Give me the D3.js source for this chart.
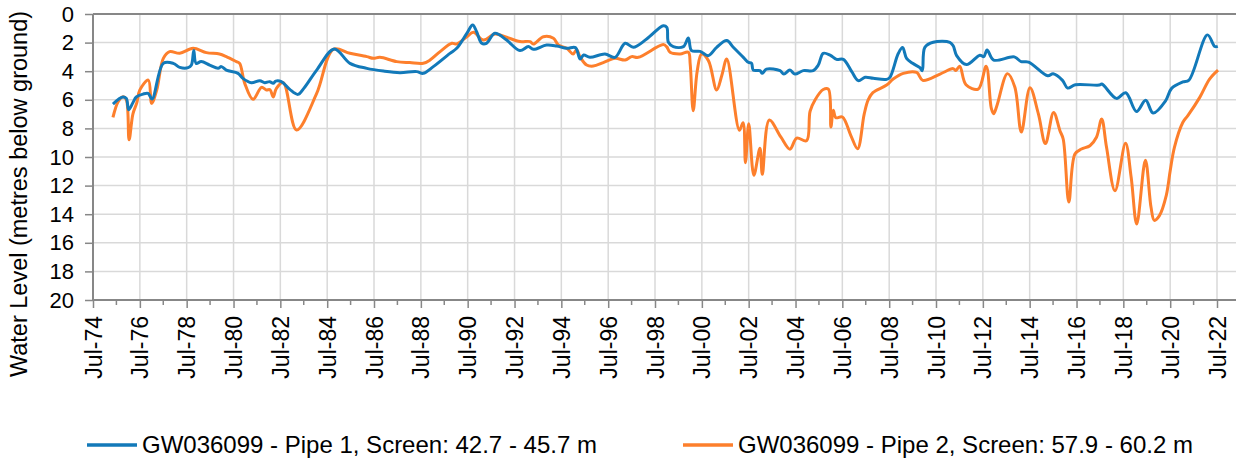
<!DOCTYPE html>
<html>
<head>
<meta charset="utf-8">
<script src="https://cdn.jsdelivr.net/npm/d3@7"></script>
<style>
  body { margin: 0; background: #fff; }
  text { font-family: "Liberation Sans", Arial, sans-serif; fill: #000; }
</style>
</head>
<body>
<script>
// readings taken off the hydrograph (decimal year, metres below ground)
var pipe1Year = [1975.35, 1975.6, 1975.78, 1975.92, 1976.02, 1976.2, 1976.35, 1976.63, 1976.85, 1977.02, 1977.5,
  1977.92, 1978.2, 1978.56, 1978.7, 1978.8, 1978.9, 1979.12, 1979.48, 1979.84, 1979.98, 1980.19, 1980.69, 1980.9,
  1981.26, 1981.62, 1981.83, 1982.04, 1982.19, 1982.3, 1982.54, 1982.9, 1983.25, 1983.5, 1984.05, 1984.8, 1985.47,
  1986.19, 1986.9, 1987.6, 1988.32, 1988.6, 1989.03, 1989.74, 1990.03, 1990.46, 1990.71, 1990.88, 1991.1, 1991.3,
  1991.66, 1992.16, 1992.73, 1993.09, 1993.3, 1993.87, 1994.3, 1994.73, 1995.1, 1995.3, 1995.45, 1995.72, 1996.36,
  1996.79, 1997.22, 1997.57, 1998.14, 1998.85, 1999.0, 1999.07, 1999.28, 1999.71, 1999.92, 2000.06, 2000.42, 2000.78,
  2001.13, 2001.56, 2001.84, 2002.27, 2002.48, 2002.62, 2002.69, 2002.98, 2003.08, 2003.26, 2003.84, 2004.0, 2004.26,
  2004.47, 2004.83, 2005.25, 2005.47, 2005.68, 2005.97, 2006.25, 2006.54, 2006.9, 2007.18, 2007.47, 2007.82, 2008.39,
  2008.53, 2008.89, 2009.07, 2009.24, 2009.5, 2009.81, 2009.91, 2010.02, 2010.38, 2011.09, 2011.23, 2011.38, 2011.8,
  2012.37, 2012.54, 2012.68, 2012.96, 2013.84, 2014.13, 2014.45, 2015.27, 2015.5, 2015.9, 2016.12, 2016.45, 2017.47,
  2017.58, 2018.2, 2018.6, 2019.06, 2019.45, 2019.77, 2020.3, 2020.56, 2021.04, 2021.3, 2022.09, 2022.4, 2022.53];
var pipe1Level = [6.3, 5.95, 5.8, 5.9, 6.7, 6.2, 5.8, 5.6, 5.55, 5.95, 3.45,
  3.45, 3.73, 3.75, 3.57, 2.55, 3.45, 3.33, 3.57, 3.8, 3.68, 3.92, 4.15, 4.5,
  4.8, 4.66, 4.8, 4.73, 4.85, 4.69, 4.73, 5.27, 5.62, 5.2, 3.92, 2.45, 3.45,
  3.8, 3.99, 4.1, 4.03, 4.15, 3.68, 2.75, 2.4, 1.35, 0.77, 1.24, 2.05, 2.05,
  1.35, 1.82, 2.56, 2.28, 2.47, 2.17, 2.24, 2.4, 2.35, 3.15, 2.87, 3.03, 2.8,
  3.03, 2.05, 2.33, 1.75, 0.82, 0.93, 1.98, 2.28, 2.28, 1.68, 2.56, 2.61, 2.91,
  2.33, 1.86, 2.33, 3.03, 3.38, 3.45, 3.92, 3.96, 4.15, 3.85, 3.96, 4.2, 3.92,
  4.2, 3.96, 3.96, 3.57, 2.75, 2.87, 3.17, 3.17, 4.03, 4.66, 4.43, 4.5, 4.57,
  4.43, 2.75, 2.35, 3.1, 3.45, 3.75, 3.96, 2.33, 1.98, 1.98, 2.22, 2.91, 3.54,
  2.88, 2.98, 2.52, 3.22, 3.0, 3.33, 3.36, 4.32, 4.18, 4.64, 5.18, 4.95, 4.97,
  4.9, 5.9, 5.51, 6.82, 6.03, 6.93, 6.08, 5.2, 4.75, 4.62, 1.46, 2.27, 2.26];

var pipe2Year = [1975.35, 1975.57, 1975.78, 1975.92, 1976.04, 1976.2, 1976.37, 1976.5, 1976.86, 1977.0, 1977.22,
  1977.5, 1977.77, 1978.2, 1978.77, 1979.34, 1979.9, 1980.19, 1980.62, 1980.76, 1980.98, 1981.33, 1981.69, 1981.9,
  1982.06, 1982.19, 1982.33, 1982.62, 1983.19, 1984.05, 1984.76, 1985.47, 1986.19, 1986.47, 1986.75, 1987.47,
  1988.03, 1988.6, 1988.89, 1989.32, 1989.82, 1990.03, 1990.46, 1990.74, 1991.17, 1991.66, 1992.16, 1992.73,
  1993.16, 1993.3, 1993.73, 1994.16, 1994.37, 1994.73, 1995.0, 1995.15, 1995.3, 1995.58, 1995.86, 1996.29, 1996.79,
  1997.22, 1997.5, 1997.78, 1998.85, 1999.0, 1999.14, 1999.57, 1999.92, 2000.0, 2000.13, 2000.3, 2000.49, 2000.78,
  2001.13, 2001.35, 2001.56, 2002.1, 2002.26, 2002.36, 2002.5, 2002.72, 2002.98, 2003.08, 2003.38, 2003.87, 2004.26,
  2004.55, 2004.97, 2005.12, 2005.33, 2005.68, 2005.9, 2006.01, 2006.11, 2006.22, 2006.5, 2006.86, 2007.15, 2007.43,
  2007.6, 2007.8, 2008.39, 2008.67, 2009.1, 2009.67, 2009.93, 2010.67, 2011.23, 2011.35, 2011.51, 2011.78, 2012.3,
  2012.64, 2012.86, 2012.96, 2013.1, 2013.55, 2013.86, 2014.14, 2014.51, 2014.87, 2015.17, 2015.52, 2015.79,
  2015.93, 2016.17, 2016.43, 2016.71, 2017.07, 2017.35, 2017.57, 2017.78, 2018.14, 2018.59, 2018.83, 2019.07,
  2019.44, 2019.68, 2019.82, 2020.04, 2020.33, 2020.5, 2020.68, 2021.04, 2021.25, 2021.76, 2022.18, 2022.54];
var pipe2Level = [7.23, 6.13, 5.78, 6.0, 8.8, 7.0, 6.2, 5.31, 4.62, 6.25, 5.31,
  3.1, 2.63, 2.75, 2.4, 2.7, 2.8, 2.98, 3.33, 3.45, 4.85, 5.97, 5.13, 5.31,
  5.3, 5.8, 5.2, 4.8, 8.11, 5.55, 2.47, 2.75, 2.98, 3.1, 3.03, 3.33,
  3.4, 3.45, 3.22, 2.63, 2.05, 2.1, 1.59, 1.28, 1.82, 1.4, 1.63, 1.93,
  1.93, 2.1, 1.59, 1.7, 2.17, 2.4, 2.8, 2.5, 3.0, 3.57, 3.64, 3.4, 3.1,
  3.22, 2.98, 3.03, 2.14, 2.3, 2.68, 2.8, 2.68, 3.5, 6.76, 4.0, 2.8, 3.26,
  5.31, 4.3, 3.15, 8.13, 7.6, 10.4, 7.68, 11.28, 9.39, 11.21, 7.41, 8.6, 9.45,
  8.68, 8.86, 6.8, 6.01, 5.28, 5.26, 7.9, 6.73, 7.25, 7.2, 8.5, 9.42, 7.0,
  6.01, 5.5, 4.97, 4.55, 4.15, 4.09, 4.64, 4.2, 3.82, 3.95, 3.65, 4.95, 5.25,
  3.65, 6.6, 6.97, 6.4, 4.17, 5.1, 8.25, 5.16, 6.99, 9.06, 6.88, 8.16,
  8.74, 13.15, 9.79, 9.44, 9.21, 8.62, 7.34, 9.32, 12.36, 9.04, 11.42, 14.69,
  10.23, 13.52, 14.43, 14.1, 12.7, 10.96, 9.32, 7.57, 7.11, 5.83, 4.55, 3.92];

var seriesNames = ["GW036099 - Pipe 1, Screen: 42.7 - 45.7 m", "GW036099 - Pipe 2, Screen: 57.9 - 60.2 m"];
var seriesColors = ["#1279b9", "#fd7f2c"];
var yTicks = [0, 2, 4, 6, 8, 10, 12, 14, 16, 18, 20];

var width = 1236, height = 466;
var plotLeft = 93, plotRight = 1236, plotTop = 14, plotBottom = 300;

function toDate(yv) {
    var yr = Math.floor(yv);
    return new Date(yr, 0, 1 + (yv - yr) * 365.25);
}

var svg = d3.select("body").append("svg")
    .attr("width", width)
    .attr("height", height);

var x = d3.scaleTime()
    .domain([new Date(1974, 6, 1), new Date(2022, 6, 1)])
    .range([plotLeft, 1217]);
var y = d3.scaleLinear().domain([0, 20]).range([plotTop, plotBottom]);

var majorDates = d3.range(1974, 2023, 2).map(function (yr) { return new Date(yr, 6, 1); });
var minorDates = d3.range(1975, 2022, 2).map(function (yr) { return new Date(yr, 6, 1); });

// gridlines
svg.append("g").selectAll("line")
    .data(yTicks.slice(1, -1))
    .enter().append("line")
    .attr("x1", plotLeft).attr("x2", plotRight)
    .attr("y1", function (d) { return y(d); })
    .attr("y2", function (d) { return y(d); })
    .attr("stroke", "#d9d9d9").attr("stroke-width", 1.5);

svg.append("g").selectAll("line")
    .data(majorDates.slice(1))
    .enter().append("line")
    .attr("x1", function (d) { return x(d); })
    .attr("x2", function (d) { return x(d); })
    .attr("y1", plotTop).attr("y2", plotBottom)
    .attr("stroke", "#d9d9d9").attr("stroke-width", 1.5);

// series
var line = d3.line()
    .x(function (d) { return x(toDate(d[0])); })
    .y(function (d) { return y(d[1]); })
    .curve(d3.curveCatmullRom.alpha(0.5));

var series = [d3.zip(pipe1Year, pipe1Level), d3.zip(pipe2Year, pipe2Level)];

// orange drawn under blue like the original
svg.append("g").selectAll("path")
    .data([1, 0])
    .enter().append("path")
    .attr("d", function (i) { return line(series[i]); })
    .attr("fill", "none")
    .attr("stroke", function (i) { return seriesColors[i]; })
    .attr("stroke-width", 3)
    .attr("stroke-linejoin", "round");

// frame lines
var axisColor = "#878787";
svg.append("line").attr("x1", plotLeft).attr("x2", plotRight).attr("y1", plotTop).attr("y2", plotTop)
    .attr("stroke", axisColor).attr("stroke-width", 2);
svg.append("line").attr("x1", plotLeft).attr("x2", plotRight).attr("y1", plotBottom).attr("y2", plotBottom)
    .attr("stroke", axisColor).attr("stroke-width", 2);
svg.append("line").attr("x1", plotLeft).attr("x2", plotLeft).attr("y1", plotTop).attr("y2", plotBottom)
    .attr("stroke", axisColor).attr("stroke-width", 2);

// y axis
var yAxis = d3.axisLeft(y).tickValues(yTicks).tickSize(8).tickPadding(11);
var gy = svg.append("g").attr("transform", "translate(" + plotLeft + ",0)").call(yAxis);
gy.select(".domain").remove();
gy.selectAll(".tick line").attr("stroke", axisColor).attr("stroke-width", 1.5);
gy.selectAll(".tick text").style("font-size", "22px").attr("fill", "#000")
    .style("font-family", "'Liberation Sans', Arial, sans-serif");

// x axis: major ticks with labels, minor ticks between
var xAxis = d3.axisBottom(x).tickValues(majorDates).tickSize(8)
    .tickFormat(d3.timeFormat("%b-%y"));
var gx = svg.append("g").attr("transform", "translate(0," + plotBottom + ")").call(xAxis);
gx.select(".domain").remove();
gx.selectAll(".tick line").attr("stroke", axisColor).attr("stroke-width", 1.5);
gx.selectAll(".tick text")
    .style("font-size", "23px")
    .style("font-family", "'Liberation Sans', Arial, sans-serif")
    .attr("fill", "#000")
    .attr("text-anchor", "end")
    .attr("transform", "rotate(-90)")
    .attr("x", -16).attr("y", 0).attr("dy", "0.35em");

svg.append("g").selectAll("line")
    .data(minorDates)
    .enter().append("line")
    .attr("x1", function (d) { return x(d); })
    .attr("x2", function (d) { return x(d); })
    .attr("y1", plotBottom).attr("y2", plotBottom + 5)
    .attr("stroke", axisColor).attr("stroke-width", 1.5);

// y title
svg.append("text")
    .attr("transform", "translate(27,194) rotate(-90)")
    .attr("text-anchor", "middle")
    .style("font-size", "23.5px")
    .text("Water Level (metres below ground)");

// legend
var legendX = [87, 683];
var legend = svg.append("g").selectAll("g")
    .data(seriesNames)
    .enter().append("g")
    .attr("transform", function (d, i) { return "translate(" + legendX[i] + ",445)"; });
legend.append("line")
    .attr("x1", 0).attr("x2", 50)
    .attr("stroke", function (d, i) { return seriesColors[i]; })
    .attr("stroke-width", 3.5);
legend.append("text")
    .attr("x", 55).attr("dy", "0.35em")
    .style("font-size", "24px")
    .text(function (d) { return d; });
</script>
</body>
</html>
